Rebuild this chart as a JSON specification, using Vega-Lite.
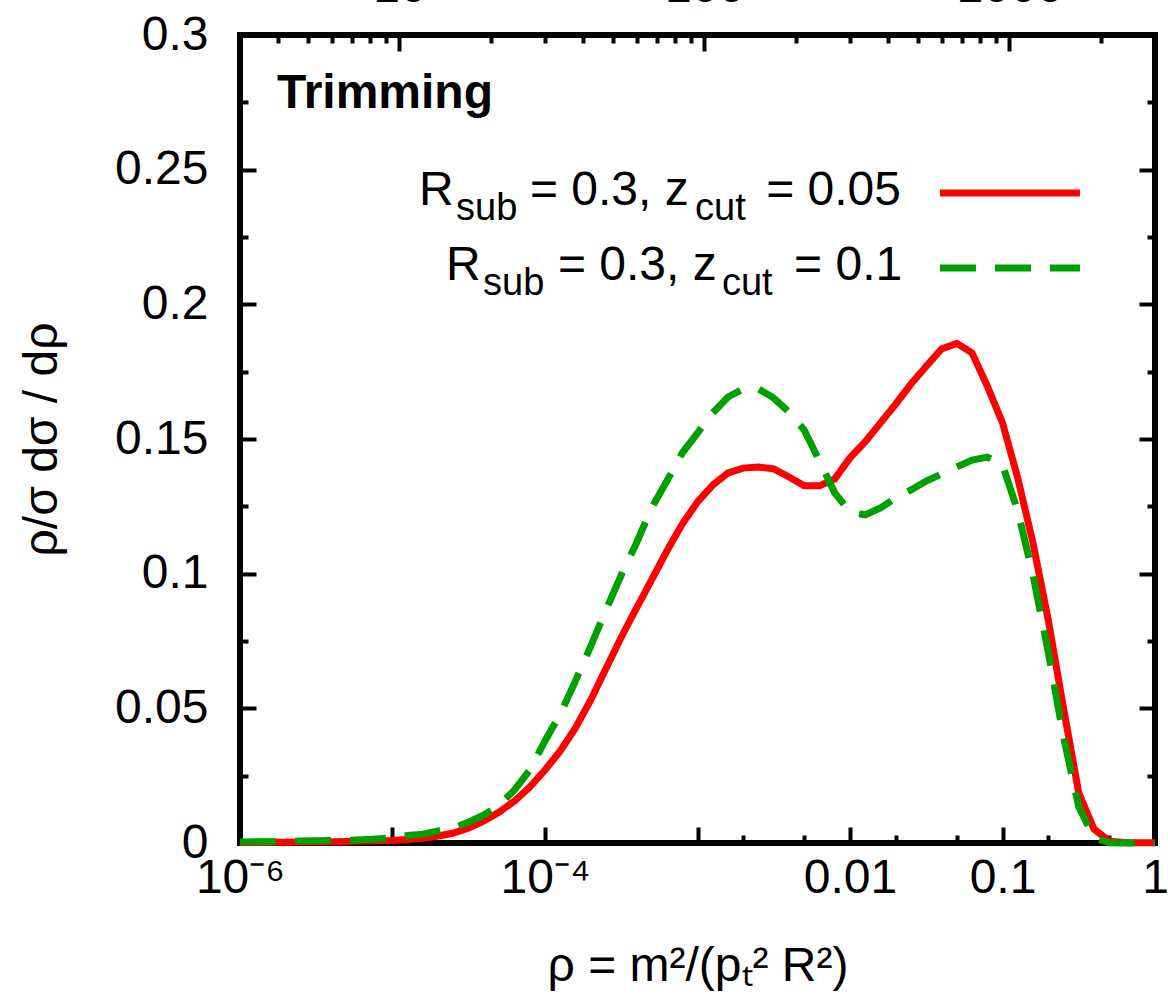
{
  "$schema": "https://vega.github.io/schema/vega-lite/v6.json",
  "width": 915,
  "height": 808,
  "autosize": {"type": "none"},
  "padding": {"left": 240, "top": 35, "right": 13, "bottom": 160},
  "background": "white",
  "config": {
    "view": {"stroke": "black", "strokeWidth": 6},
    "font": "Liberation Sans",
    "axis": {
      "domain": false,
      "grid": false,
      "labelFont": "Liberation Sans",
      "labelColor": "black",
      "labelFontSize": 48,
      "labelFlush": false,
      "labelOverlap": false,
      "labelBound": false,
      "tickColor": "black",
      "tickWidth": 4,
      "titleFont": "Liberation Sans",
      "titleFontWeight": "normal",
      "titleColor": "black",
      "titleFontSize": 48
    },
    "text": {"font": "Liberation Sans", "color": "black"}
  },
  "datasets": {
    "curves": [
      {"rho": 1e-6, "v": 0.0002, "s": "a"}, {"rho": 1.259e-6, "v": 0.0002, "s": "a"}, {"rho": 1.585e-6, "v": 0.0003, "s": "a"}, {"rho": 1.995e-6, "v": 0.0003, "s": "a"}, {"rho": 2.512e-6, "v": 0.0004, "s": "a"},
      {"rho": 3.162e-6, "v": 0.0004, "s": "a"}, {"rho": 3.981e-6, "v": 0.0005, "s": "a"}, {"rho": 5.012e-6, "v": 0.0006, "s": "a"}, {"rho": 6.31e-6, "v": 0.0007, "s": "a"}, {"rho": 7.943e-6, "v": 0.0008, "s": "a"},
      {"rho": 1e-5, "v": 0.0009, "s": "a"}, {"rho": 1.259e-5, "v": 0.0013, "s": "a"}, {"rho": 1.585e-5, "v": 0.0017, "s": "a"}, {"rho": 1.995e-5, "v": 0.0026, "s": "a"}, {"rho": 2.512e-5, "v": 0.0037, "s": "a"},
      {"rho": 3.162e-5, "v": 0.0056, "s": "a"}, {"rho": 3.981e-5, "v": 0.0082, "s": "a"}, {"rho": 5.012e-5, "v": 0.0115, "s": "a"}, {"rho": 6.31e-5, "v": 0.0156, "s": "a"}, {"rho": 7.943e-5, "v": 0.0208, "s": "a"},
      {"rho": 1e-4, "v": 0.0271, "s": "a"}, {"rho": 1.259e-4, "v": 0.0342, "s": "a"}, {"rho": 1.585e-4, "v": 0.0427, "s": "a"}, {"rho": 1.995e-4, "v": 0.0531, "s": "a"}, {"rho": 2.512e-4, "v": 0.0648, "s": "a"},
      {"rho": 3.162e-4, "v": 0.0764, "s": "a"}, {"rho": 3.981e-4, "v": 0.0872, "s": "a"}, {"rho": 5.012e-4, "v": 0.0978, "s": "a"}, {"rho": 6.31e-4, "v": 0.1085, "s": "a"}, {"rho": 7.943e-4, "v": 0.1184, "s": "a"},
      {"rho": 1e-3, "v": 0.1266, "s": "a"}, {"rho": 1.259e-3, "v": 0.1329, "s": "a"}, {"rho": 1.585e-3, "v": 0.1374, "s": "a"}, {"rho": 1.995e-3, "v": 0.1392, "s": "a"}, {"rho": 2.512e-3, "v": 0.1396, "s": "a"},
      {"rho": 3.162e-3, "v": 0.1389, "s": "a"}, {"rho": 3.981e-3, "v": 0.1359, "s": "a"}, {"rho": 5.012e-3, "v": 0.1326, "s": "a"}, {"rho": 6.31e-3, "v": 0.1326, "s": "a"}, {"rho": 7.943e-3, "v": 0.1352, "s": "a"},
      {"rho": 0.01, "v": 0.143, "s": "a"}, {"rho": 0.01259, "v": 0.149, "s": "a"}, {"rho": 0.01585, "v": 0.156, "s": "a"}, {"rho": 0.01995, "v": 0.163, "s": "a"}, {"rho": 0.02512, "v": 0.1704, "s": "a"},
      {"rho": 0.03162, "v": 0.177, "s": "a"}, {"rho": 0.03981, "v": 0.1834, "s": "a"}, {"rho": 0.05012, "v": 0.1855, "s": "a"}, {"rho": 0.0631, "v": 0.182, "s": "a"}, {"rho": 0.07943, "v": 0.1697, "s": "a"},
      {"rho": 0.1, "v": 0.156, "s": "a"}, {"rho": 0.1259, "v": 0.1355, "s": "a"}, {"rho": 0.1585, "v": 0.1114, "s": "a"}, {"rho": 0.1995, "v": 0.0828, "s": "a"}, {"rho": 0.2512, "v": 0.0501, "s": "a"},
      {"rho": 0.3162, "v": 0.0186, "s": "a"}, {"rho": 0.3981, "v": 0.0052, "s": "a"}, {"rho": 0.5012, "v": 0.0007, "s": "a"}, {"rho": 0.631, "v": 0.0002, "s": "a"}, {"rho": 0.7943, "v": 0.0001, "s": "a"},
      {"rho": 1, "v": 0.0001, "s": "a"},
      {"rho": 1e-6, "v": 0.0004, "s": "b"}, {"rho": 1.259e-6, "v": 0.0005, "s": "b"}, {"rho": 1.585e-6, "v": 0.0005, "s": "b"}, {"rho": 1.995e-6, "v": 0.0006, "s": "b"}, {"rho": 2.512e-6, "v": 0.0007, "s": "b"},
      {"rho": 3.162e-6, "v": 0.0008, "s": "b"}, {"rho": 3.981e-6, "v": 0.0009, "s": "b"}, {"rho": 5.012e-6, "v": 0.001, "s": "b"}, {"rho": 6.31e-6, "v": 0.0012, "s": "b"}, {"rho": 7.943e-6, "v": 0.0015, "s": "b"},
      {"rho": 1e-5, "v": 0.0019, "s": "b"}, {"rho": 1.259e-5, "v": 0.0028, "s": "b"}, {"rho": 1.585e-5, "v": 0.0033, "s": "b"}, {"rho": 1.995e-5, "v": 0.0045, "s": "b"}, {"rho": 2.512e-5, "v": 0.0056, "s": "b"},
      {"rho": 3.162e-5, "v": 0.0078, "s": "b"}, {"rho": 3.981e-5, "v": 0.0104, "s": "b"}, {"rho": 5.012e-5, "v": 0.0141, "s": "b"}, {"rho": 6.31e-5, "v": 0.0197, "s": "b"}, {"rho": 7.943e-5, "v": 0.0271, "s": "b"},
      {"rho": 1e-4, "v": 0.0379, "s": "b"}, {"rho": 1.259e-4, "v": 0.0479, "s": "b"}, {"rho": 1.585e-4, "v": 0.0602, "s": "b"}, {"rho": 1.995e-4, "v": 0.0731, "s": "b"}, {"rho": 2.512e-4, "v": 0.0865, "s": "b"},
      {"rho": 3.162e-4, "v": 0.0995, "s": "b"}, {"rho": 3.981e-4, "v": 0.1114, "s": "b"}, {"rho": 5.012e-4, "v": 0.1245, "s": "b"}, {"rho": 6.31e-4, "v": 0.1345, "s": "b"}, {"rho": 7.943e-4, "v": 0.1448, "s": "b"},
      {"rho": 1e-3, "v": 0.1522, "s": "b"}, {"rho": 1.259e-3, "v": 0.1597, "s": "b"}, {"rho": 1.585e-3, "v": 0.1656, "s": "b"}, {"rho": 1.995e-3, "v": 0.1686, "s": "b"}, {"rho": 2.512e-3, "v": 0.1686, "s": "b"},
      {"rho": 3.162e-3, "v": 0.1652, "s": "b"}, {"rho": 3.981e-3, "v": 0.16, "s": "b"}, {"rho": 5.012e-3, "v": 0.1533, "s": "b"}, {"rho": 6.31e-3, "v": 0.1418, "s": "b"}, {"rho": 7.943e-3, "v": 0.13, "s": "b"},
      {"rho": 0.01, "v": 0.1229, "s": "b"}, {"rho": 0.01259, "v": 0.1218, "s": "b"}, {"rho": 0.01585, "v": 0.1244, "s": "b"}, {"rho": 0.01995, "v": 0.1281, "s": "b"}, {"rho": 0.02512, "v": 0.1311, "s": "b"},
      {"rho": 0.03162, "v": 0.1344, "s": "b"}, {"rho": 0.03981, "v": 0.137, "s": "b"}, {"rho": 0.05012, "v": 0.1396, "s": "b"}, {"rho": 0.0631, "v": 0.1422, "s": "b"}, {"rho": 0.07943, "v": 0.1433, "s": "b"},
      {"rho": 0.1, "v": 0.1404, "s": "b"}, {"rho": 0.1259, "v": 0.1233, "s": "b"}, {"rho": 0.1585, "v": 0.0995, "s": "b"}, {"rho": 0.1995, "v": 0.0709, "s": "b"}, {"rho": 0.2512, "v": 0.0394, "s": "b"},
      {"rho": 0.3162, "v": 0.0134, "s": "b"}, {"rho": 0.3981, "v": 0.0019, "s": "b"}, {"rho": 0.5012, "v": 0.0001, "s": "b"}, {"rho": 0.631, "v": 0, "s": "b"}, {"rho": 0.7943, "v": 0, "s": "b"},
      {"rho": 1, "v": 0, "s": "b"}
    ],
    "keyLines": [
      {"x1": 0.0389, "x2": 0.322, "y": 0.2413, "s": "a"},
      {"x1": 0.0389, "x2": 0.322, "y": 0.2135, "s": "b"}
    ],
    "keyMain": [
      {"x": 1.492e-5, "y": 0.2369, "t": "R"},
      {"x": 7.97e-5, "y": 0.2369, "t": "= 0.3, z"},
      {"x": 2.82e-3, "y": 0.2369, "t": "= 0.05"},
      {"x": 2.243e-5, "y": 0.209, "t": "R"},
      {"x": 1.216e-4, "y": 0.209, "t": "= 0.3, z"},
      {"x": 4.3e-3, "y": 0.209, "t": "= 0.1"}
    ],
    "keySub": [
      {"x": 2.609e-5, "y": 0.2313, "t": "sub"},
      {"x": 9.63e-4, "y": 0.2313, "t": "cut"},
      {"x": 3.922e-5, "y": 0.2035, "t": "sub"},
      {"x": 1.447e-3, "y": 0.2035, "t": "cut"}
    ],
    "note": [
      {"x": 1.748e-6, "y": 0.2729, "t": "Trimming"}
    ]
  },
  "resolve": {"axis": {"x": "independent", "y": "independent"}},
  "layer": [
    {
      "data": {"name": "curves"},
      "transform": [{"filter": "datum.s === 'a'"}],
      "mark": {"type": "line", "color": "#ff0000", "strokeWidth": 7, "clip": false},
      "encoding": {
        "x": {"field": "rho", "type": "quantitative", "scale": {"type": "log", "domain": [1e-6, 1]},
          "axis": {"orient": "bottom", "ticks": false, "values": [1e-6, 1e-4, 0.01, 0.1, 1],
            "labelExpr": "datum.value < 1e-5 ? '10⁻⁶' : datum.value < 1e-3 ? '10⁻⁴' : datum.value < 0.05 ? '0.01' : datum.value < 0.5 ? '0.1' : '1'",
            "labelPadding": 11, "title": "ρ = m²/(pₜ² R²)", "titlePadding": 40}},
        "y": {"field": "v", "type": "quantitative", "scale": {"domain": [0, 0.3]},
          "axis": {"orient": "left", "ticks": false, "values": [0, 0.05, 0.1, 0.15, 0.2, 0.25, 0.3], "format": "~g",
            "labelPadding": 32, "title": "ρ/σ dσ / dρ", "titlePadding": 48, "titleFontSize": 48}}
      }
    },
    {
      "data": {"name": "curves"},
      "transform": [{"filter": "datum.s === 'b'"}],
      "mark": {"type": "line", "color": "#00a000", "strokeWidth": 7, "strokeDash": [36, 19], "clip": false},
      "encoding": {
        "x": {"field": "rho", "type": "quantitative",
          "axis": {"orient": "bottom", "labels": false, "tickSize": -16, "values": [1e-6, 1e-5, 1e-4, 1e-3, 0.01, 0.1, 1], "title": null}},
        "y": {"field": "v", "type": "quantitative",
          "axis": {"orient": "left", "labels": false, "tickSize": -16, "values": [0, 0.05, 0.1, 0.15, 0.2, 0.25, 0.3], "title": null}}
      }
    },
    {
      "data": {"name": "keyLines"},
      "transform": [{"filter": "datum.s === 'a'"}],
      "mark": {"type": "rule", "color": "#ff0000", "strokeWidth": 7},
      "encoding": {
        "x": {"field": "x1", "type": "quantitative",
          "axis": {"orient": "bottom", "labels": false, "tickSize": -8, "values": [0.002, 0.005, 0.02, 0.05, 0.2, 0.5], "title": null}},
        "x2": {"field": "x2"},
        "y": {"field": "y", "type": "quantitative",
          "axis": {"orient": "left", "labels": false, "tickSize": -8, "values": [0.025, 0.075, 0.125, 0.175, 0.225, 0.275], "title": null}}
      }
    },
    {
      "data": {"name": "keyLines"},
      "transform": [{"filter": "datum.s === 'b'"}],
      "mark": {"type": "rule", "color": "#00a000", "strokeWidth": 7, "strokeDash": [36, 19]},
      "encoding": {
        "x": {"field": "x1", "type": "quantitative",
          "axis": {"orient": "top", "labels": false, "tickSize": -16, "values": [1.1111e-5, 1.1111e-3, 0.11111], "title": null}},
        "x2": {"field": "x2"},
        "y": {"field": "y", "type": "quantitative",
          "axis": {"orient": "right", "labels": false, "tickSize": -16, "values": [0, 0.05, 0.1, 0.15, 0.2, 0.25, 0.3], "title": null}}
      }
    },
    {
      "data": {"name": "keyMain"},
      "mark": {"type": "text", "fontSize": 48, "align": "left", "baseline": "alphabetic"},
      "encoding": {
        "x": {"field": "x", "type": "quantitative",
          "axis": {"orient": "top", "labels": false, "tickSize": -8,
            "values": [1.7778e-6, 2.7778e-6, 4e-6, 5.4444e-6, 7.1111e-6, 9e-6, 4.4444e-5, 1e-4, 1.7778e-4, 2.7778e-4, 4e-4, 5.4444e-4, 7.1111e-4, 9e-4, 4.4444e-3, 0.01, 0.017778, 0.027778, 0.04, 0.054444, 0.071111, 0.09, 0.44444], "title": null}},
        "y": {"field": "y", "type": "quantitative",
          "axis": {"orient": "right", "labels": false, "tickSize": -8, "values": [0.025, 0.075, 0.125, 0.175, 0.225, 0.275], "title": null}},
        "text": {"field": "t"}
      }
    },
    {
      "data": {"name": "keySub"},
      "mark": {"type": "text", "fontSize": 38, "align": "left", "baseline": "alphabetic"},
      "encoding": {
        "x": {"field": "x", "type": "quantitative",
          "axis": {"orient": "top", "ticks": false, "values": [1.1111e-5, 1.1111e-3, 0.11111],
            "labelExpr": "datum.value < 1e-4 ? '10' : datum.value < 0.01 ? '100' : '1000'",
            "labelPadding": 24, "title": null}},
        "y": {"field": "y", "type": "quantitative", "axis": null},
        "text": {"field": "t"}
      }
    },
    {
      "data": {"name": "note"},
      "mark": {"type": "text", "fontSize": 48, "fontWeight": "bold", "align": "left", "baseline": "alphabetic"},
      "encoding": {
        "x": {"field": "x", "type": "quantitative", "axis": null},
        "y": {"field": "y", "type": "quantitative", "axis": null},
        "text": {"field": "t"}
      }
    }
  ]
}
